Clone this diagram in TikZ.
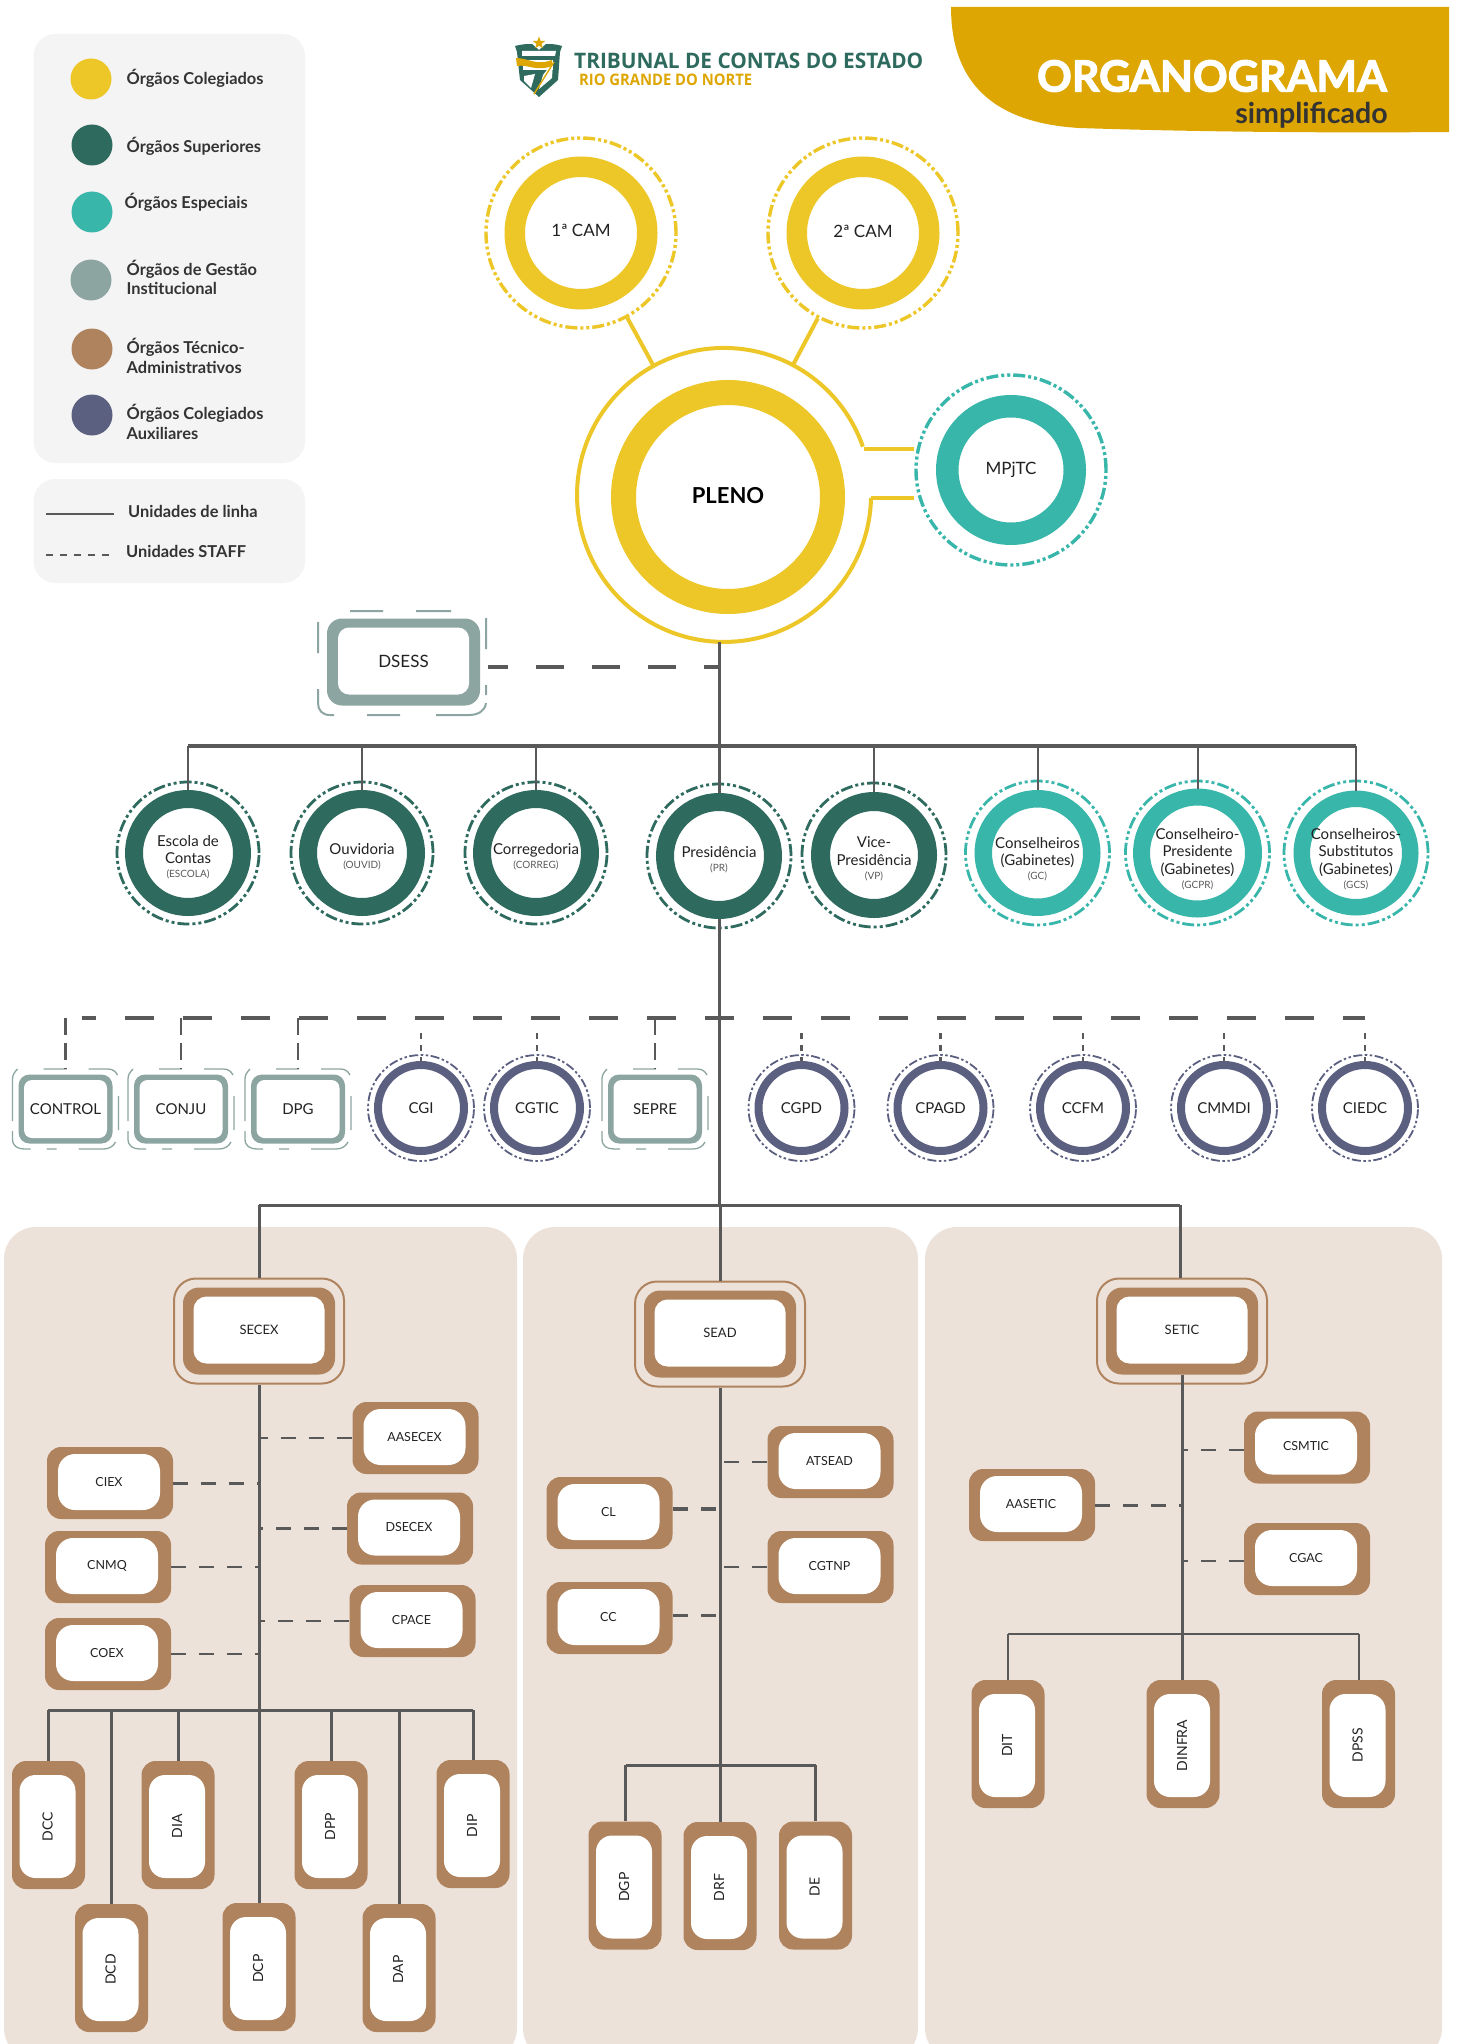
\documentclass[tikz,border=0pt]{standalone}
\usepackage{fontspec}
\setmainfont{Lato}
\newfontfamily\logofont{Open Sans}
\usetikzlibrary{shapes.geometric,calc}
\definecolor{cGold}{HTML}{EDC627}
\definecolor{cDark}{HTML}{2E6B5E}
\definecolor{cTeal}{HTML}{38B6AA}
\definecolor{cGray}{HTML}{8CA5A1}
\definecolor{cBrown}{HTML}{AF835D}
\definecolor{cPurp}{HTML}{5B5F80}
\definecolor{cLine}{HTML}{595959}
\definecolor{cPanel}{HTML}{F4F4F4}
\definecolor{cTitle}{HTML}{DEA602}
\definecolor{cBeige}{HTML}{EDE2DA}
\definecolor{cTxt}{HTML}{222222}
\newcommand{\fs}[1]{\fontsize{#1}{#1}\selectfont}
\newcommand{\subt}[1]{{\fontsize{10}{11}\selectfont\color{black!65} #1}}
\newcommand{\dlw}{2.8}
\newcommand{\tdy}{-5pt}
\tikzset{
  ringnode/.style={circle,inner sep=0pt,fill=white},
  ringtext/.style={inner sep=0pt,align=center,text=cTxt,font=\fontsize{15}{17.5}\selectfont},
  dashcirc/.style={circle,inner sep=0pt,draw=#1,line width=\dlw pt,dash pattern=on 12pt off 3pt on 3pt off 3pt on 3pt off 3pt},
  smalldash/.style={circle,inner sep=0pt,draw=#1,line width=1.8pt,dash pattern=on 9pt off 2.5pt on 2.5pt off 2.5pt on 2.5pt off 2.5pt},
  conn/.style={draw=cLine,line width=3pt},
  thin conn/.style={draw=cLine,line width=2pt},
  staff/.style={draw=cLine,line width=3.2pt,dash pattern=on 29pt off 29pt},
  vstaff/.style={draw=cLine,line width=2.4pt,dash pattern=on 17pt off 8pt},
  cstaff/.style={draw=cLine,line width=2.4pt,dash pattern=on 6pt off 6pt},
  lstaff/.style={draw=cLine,line width=2.5pt,dash pattern=on 15pt off 13pt},
  hbout/.style={rectangle,fill=cBrown,rounded corners=14pt,minimum width=126pt,minimum height=72pt,inner sep=0pt},
  hbin/.style={rectangle,fill=white,rounded corners=17pt,minimum width=102pt,minimum height=56pt,inner sep=0pt,xshift=-1pt,yshift=1pt,font=\fs{12.5},text=cTxt},
  vbout/.style={rectangle,fill=cBrown,rounded corners=14pt,minimum width=73pt,minimum height=128pt,inner sep=0pt},
  vbin/.style={rectangle,fill=white,rounded corners=16pt,minimum width=56pt,minimum height=103pt,inner sep=0pt,xshift=-1pt,yshift=-1.5pt,font=\fs{14},text=cTxt},
  tbout/.style={rectangle,fill=cBrown,rounded corners=16pt,minimum width=152pt,minimum height=87pt,inner sep=0pt},
  tbin/.style={rectangle,fill=white,rounded corners=13pt,minimum width=131pt,minimum height=67pt,inner sep=0pt,yshift=1pt,font=\fs{13},text=cTxt},
  tbrim/.style={rectangle,draw=cBrown,line width=2pt,rounded corners=22pt,minimum width=170pt,minimum height=105pt,inner sep=0pt},
  gbout/.style={rectangle,fill=cGray,rounded corners=11pt,minimum width=94pt,minimum height=69pt,inner sep=0pt},
  gbin/.style={rectangle,fill=white,rounded corners=8pt,minimum width=83pt,minimum height=58pt,inner sep=0pt,font=\fs{15},text=cTxt},
  gbframe/.style={rectangle,minimum width=106pt,minimum height=80pt,inner sep=0pt},
  gbstroke/.style={draw=cGray,line width=1.3pt},
  gloutL/.style={rectangle,fill=cGray,rounded corners=15pt,minimum width=153pt,minimum height=87pt,inner sep=0pt},
  glinL/.style={rectangle,fill=white,rounded corners=11pt,minimum width=131pt,minimum height=67pt,inner sep=0pt,yshift=1pt,font=\fs{17},text=cTxt},
  glframe/.style={rectangle,minimum width=170pt,minimum height=104pt,inner sep=0pt},
  glstroke/.style={draw=cGray,line width=2pt},
  legdot/.style={circle,minimum size=41pt,inner sep=0pt},
  legtxt/.style={anchor=west,align=left,font=\fontsize{16.4}{19.5}\selectfont\bfseries,text=black!80,inner sep=0pt},
  legbox/.style={fill=cPanel,rounded corners=22pt},
  beige/.style={fill=cBeige,rounded corners=32pt},
  yline/.style={draw=cGold,line width=4pt},
}
\newcommand{\orgcirc}[8]{% name,x,y,outer r,inner r,dash r,colour,text
  \pgfmathsetmacro\lwv{#4-#5}\pgfmathsetmacro\mdv{#4+#5}\pgfmathsetmacro\ddv{2*#6}
  \node[dashcirc=#7,minimum size=\ddv pt] (#1-o) at (#2,#3) {};
  \node[ringnode,draw=#7,line width=\lwv pt,minimum size=\mdv pt] (#1) at (#2,#3) {};
  \node[ringtext,yshift=\tdy] (#1-t) at (#1.center) {#8};}
\newcommand{\smallcirc}[3]{% name,x,text
  \node[smalldash=cPurp,minimum size=106pt] (#1-o) at (#2,1108) {};
  \node[ringnode,draw=cPurp,line width=8pt,minimum size=86pt,font=\fs{15},text=cTxt] (#1) at (#2,1108) {#3};}
\newcommand{\orgbox}[5]{% name,x,y,kind,text
  \node[#4out] (#1) at (#2,#3) {};
  \node[#4in] (#1-t) at (#1.center) {#5};}
\newcommand{\rimbox}[4]{% name,x,y,text
  \node[tbrim] (#1-r) at (#2,#3) {};
  \orgbox{#1}{#2}{#3}{tb}{#4}}
\newcommand{\graybox}[3]{% name,x,text
  \node[gbframe] (#1-o) at (#2,1109) {};
  \draw[gbstroke,shift={(#1-o.center)}]
    (-48,-40) .. controls (-51,-37) and (-53,-34) .. (-53,-30) -- (-53,12)
    (-53,22) -- (-53,30) .. controls (-53,37) and (-48,40) .. (-41,40) -- (-35,40)
    (-19,40) -- (-9,40)
    (13,40) -- (38,40) .. controls (44,40) and (48,37) .. (50,33)
    (53,-13) -- (53,21)
    (-22,-40) -- (1,-40)
    (23,-40) -- (42,-40) .. controls (47,-40) and (50,-38) .. (52,-34);
  \node[gbout] (#1) at (#2,1109) {};
  \node[gbin] (#1-t) at (#1.center) {#3};}
\begin{document}
\begin{tikzpicture}[x=1pt,y=-1pt]
\clip (0,0) rectangle (1458,2044);
\fill[white] (0,0) rectangle (1458,2044);
% title band
\fill[cTitle] (951,7) .. controls (951,70) and (980,122) .. (1079,128) .. controls (1200,132) and (1330,133) .. (1449,132) -- (1449,7) -- cycle;
\node[anchor=center,text=white,inner sep=0pt,font=\fs{43}\bfseries\addfontfeature{FakeBold=2.5}] (ttl) at (1212,76) {ORGANOGRAMA};
\node[anchor=east,text=black!80,inner sep=0pt,font=\fs{28.6}\bfseries] (sub) at (1388,115.5) {simplificado};
% logo
\fill[cDark] (515,46) .. controls (522,44) and (528,44) .. (532,44) -- (539,50) -- (546,44) .. controls (550,44) and (556,44) .. (562,46) -- (560,52) -- (558,80) -- (539,97) -- (520,80) -- (517,52) -- cycle;
\fill[white] (522,51) -- (556,51) -- (555,56) -- (522,56) -- cycle;
\fill[white] (523,60) -- (553,60) -- (553,70) -- (523,70) -- cycle;
\fill[white] (524,76) -- (535,74) -- (531,88) -- (524,81) -- cycle;
\fill[white] (543,75) -- (553,62) -- (552,78) -- (539,89) -- cycle;
\fill[cTitle] (516,58) .. controls (528,58) and (536,66) .. (552,60) -- (552,66) .. controls (536,72) and (528,64) .. (517,66) -- cycle;
\draw[cTitle,line width=1.4pt] (554,62) -- (534,94);
\node[star,star points=5,star point ratio=2.4,fill=cTitle,inner sep=0pt,minimum size=13pt] (lgstar) at (539,43) {};
\node[anchor=west,inner sep=0pt,text=cDark] (lg1) at (574,60.5) {\resizebox{349pt}{15.5pt}{\logofont\bfseries\fs{18}TRIBUNAL DE CONTAS DO ESTADO}};
\node[anchor=west,inner sep=0pt,text=cTitle] (lg2) at (579,79.5) {\resizebox{173pt}{11.5pt}{\logofont\bfseries\fs{14}RIO GRANDE DO NORTE}};
% legend
\fill[legbox] (33.5,34) rectangle (305,463);
\fill[legbox] (33.5,479) rectangle (305,583);
\node[legdot,fill=cGold] (l1) at (91,79) {};
\node[legdot,fill=cDark] (l2) at (92,145) {};
\node[legdot,fill=cTeal] (l3) at (92,212) {};
\node[legdot,fill=cGray] (l4) at (91,280) {};
\node[legdot,fill=cBrown] (l5) at (92,349) {};
\node[legdot,fill=cPurp] (l6) at (92,415) {};
\node[legtxt] (t1) at (126.5,78) {Órgãos Colegiados};
\node[legtxt] (t2) at (126.5,146) {Órgãos Superiores};
\node[legtxt] (t3) at (124.5,202) {Órgãos Especiais};
\node[legtxt] (t4) at (126.5,277.5) {Órgãos de Gestão\\Institucional};
\node[legtxt] (t5) at (126.5,356) {Órgãos Técnico-\\Administrativos};
\node[legtxt] (t6) at (126.5,422) {Órgãos Colegiados\\Auxiliares};
\coordinate (la) at (46,514); \coordinate (lb) at (114,514);
\coordinate (lc) at (46,555); \coordinate (ld) at (114,555);
\draw[draw=cLine,line width=2.4pt] (la) -- (lb);
\draw[draw=cLine,line width=2pt,dash pattern=on 7pt off 7pt] (lc) -- (ld);
\node[legtxt] (t7) at (128,511) {Unidades de linha};
\node[legtxt] (t8) at (126,551) {Unidades STAFF};
% panels
\fill[beige] (4,1227) rectangle (517,2060);
\fill[beige] (523,1227) rectangle (918,2060);
\fill[beige] (925,1227) rectangle (1442,2060);
% Pleno group
\node[circle,minimum size=294pt,inner sep=0pt] (pleno-o) at (724,495) {};
\coordinate (gapA) at (863.6,449);
\coordinate (gapB) at (871,498);
\draw[yline] (gapB) arc[start angle=1.2,end angle=340.8,radius=147];
\renewcommand{\dlw}{3.4}
\renewcommand{\tdy}{0pt}
\orgcirc{cam1}{581}{233}{76.5}{56}{95}{cGold}{\raisebox{5pt}{\fs{17}1ª CAM}}
\orgcirc{cam2}{863}{233}{76.5}{56}{95}{cGold}{\raisebox{4pt}{\fs{17}2ª CAM}}
\orgcirc{mp}{1011}{470}{75}{52.5}{95}{cTeal}{\raisebox{-1pt}{\fs{17}MPjTC}}
\renewcommand{\dlw}{2.8}
\node[ringnode,draw=cGold,line width=25pt,minimum size=209pt,font=\fs{22}\bfseries,text=black] (pleno) at (728,497) {\raisebox{3pt}{PLENO}};
\draw[yline] (cam1-o) -- (pleno-o);
\draw[yline] (cam2-o) -- (pleno-o);
\draw[yline] (gapA) -- (gapA -| mp-o.west);
\draw[yline] (gapB) -- (gapB -| mp-o.west);
% DSESS
\node[glframe] (dsess-o) at (403,663) {};
\draw[glstroke,shift={(dsess-o.center)}]
  (-53,-52) -- (-20,-52) (13,-52) -- (48,-52)
  (-85,-41) -- (-85,-10)
  (-85,26) -- (-85,40) .. controls (-85,47) and (-81,52) .. (-73,52) -- (-69,52)
  (-36,52) -- (-3,52)
  (33,52) -- (66,52) .. controls (75,52) and (82,48) .. (83,40)
  (83,-45) -- (83,-14) (83,22) -- (83,32);
\node[gloutL] (dsess) at (403.5,662) {};
\node[glinL] (dsess-t) at (dsess.center) {\raisebox{-1.5pt}{DSESS}};
% second row
\coordinate (b2L) at (188,746);
\coordinate (b2R) at (1356,746);
\renewcommand{\tdy}{-4pt}
\orgcirc{esc}{188}{853}{63}{45}{71}{cDark}{Escola de\\Contas\\[-3.5pt]\subt{(ESCOLA)}}
\orgcirc{ouv}{362}{853}{63}{45}{71}{cDark}{Ouvidoria\\[-3.5pt]\subt{(OUVID)}}
\orgcirc{cor}{536}{853}{63}{45}{71}{cDark}{Corregedoria\\[-3.5pt]\subt{(CORREG)}}
\orgcirc{pres}{719}{856}{63}{45}{72}{cDark}{Presidência\\[-3.5pt]\subt{(PR)}}
\orgcirc{vice}{874}{855}{63}{44}{72}{cDark}{Vice-\\Presidência\\[-3.5pt]\subt{(VP)}}
\renewcommand{\tdy}{-6pt}
\orgcirc{gc}{1037.5}{853}{63}{45.5}{72}{cTeal}{Conselheiros\\(Gabinetes)\\[-3.5pt]\subt{(GC)}}
\orgcirc{gcpr}{1197.5}{853}{64.5}{47.5}{72}{cTeal}{Conselheiro-\\Presidente\\(Gabinetes)\\[-3.5pt]\subt{(GCPR)}}
\orgcirc{gcs}{1356}{853}{62.5}{46}{72}{cTeal}{Conselheiros-\\Substitutos\\(Gabinetes)\\[-3.5pt]\subt{(GCS)}}
\draw[conn,line width=3.4pt] (b2L) -- (b2R);
\foreach \nm in {esc,ouv,cor,vice,gc,gcpr,gcs}{
  \draw[thin conn] (\nm.north |- b2L) -- (\nm.north);}
% trunk
\coordinate (tD) at (718.5,667);
\coordinate (b3L) at (259,1205);
\coordinate (b3R) at (1180,1205);
\draw[conn] (pres.north |- pleno-o.south) -- (pres.north);
\draw[conn] (pres.south) -- (pres.south |- b3L);
\draw[staff,dash pattern=on 28pt off 28pt,dash phase=13pt] (tD) -- (tD -| dsess-o.east);
% staff row
\coordinate (stL) at (81.5,1018);
\coordinate (stR) at (1365,1018);
\graybox{control}{65.5}{CONTROL}
\graybox{conju}{181}{CONJU}
\graybox{dpg}{298}{DPG}
\graybox{sepre}{655}{SEPRE}
\smallcirc{cgi}{421}{CGI}
\smallcirc{cgtic}{537}{CGTIC}
\smallcirc{cgpd}{801.5}{CGPD}
\smallcirc{cpagd}{940.5}{CPAGD}
\smallcirc{ccfm}{1083}{CCFM}
\smallcirc{cmmdi}{1224}{CMMDI}
\smallcirc{ciedc}{1365}{CIEDC}
\draw[staff,dash phase=15pt] (stL) -- (stR);
\foreach \nm in {control,conju,dpg,sepre}{
  \draw[vstaff] (\nm-o.north |- stL) -- (\nm-o.north);}
\foreach \nm in {cgi,cgtic,cgpd,cpagd,ccfm,cmmdi,ciedc}{
  \draw[cstaff,shorten <=15pt] (\nm.north |- stL) -- (\nm.north);}
% third bus
\rimbox{secex}{259}{1331}{SECEX}
\rimbox{sead}{720}{1334}{SEAD}
\rimbox{setic}{1182}{1331}{SETIC}
\draw[conn] (b3L) -- (b3R);
\draw[conn] (b3L) -- (secex-r.north);
\draw[conn] (sead-r.north |- b3L) -- (sead-r.north);
\draw[conn] (b3R) -- (b3R |- setic-r.north);
% SECEX
\orgbox{aasecex}{415.5}{1438}{hb}{AASECEX}
\orgbox{ciex}{110}{1483}{hb}{CIEX}
\orgbox{dsecex}{410}{1528.5}{hb}{DSECEX}
\orgbox{cnmq}{108}{1567}{hb}{CNMQ}
\orgbox{cpace}{412.5}{1621}{hb}{CPACE}
\orgbox{coex}{108}{1654}{hb}{COEX}
\orgbox{dcc}{48.5}{1825}{vb}{\rotatebox{90}{DCC}}
\orgbox{dia}{178}{1825}{vb}{\rotatebox{90}{DIA}}
\orgbox{dpp}{331}{1825}{vb}{\rotatebox{90}{DPP}}
\orgbox{dip}{473}{1824}{vb}{\rotatebox{90}{DIP}}
\orgbox{dcd}{111.5}{1968}{vb}{\rotatebox{90}{DCD}}
\orgbox{dcp}{259}{1967}{vb}{\rotatebox{90}{DCP}}
\orgbox{dap}{399}{1968}{vb}{\rotatebox{90}{DAP}}
\coordinate (bsL) at (48,1710);
\coordinate (bsR) at (473,1710);
\draw[conn] (secex-r.south) -- (dcp.north);
\draw[conn] (bsL) -- (bsR);
\foreach \nm in {dcc,dcd,dia,dpp,dap,dip}{
  \draw[conn] (\nm.north |- bsL) -- (\nm.north);}
\foreach \nm in {aasecex,dsecex,cpace}{
  \draw[lstaff] (\nm.west) -- (\nm.west -| secex-r.south);}
\draw[lstaff,line width=3pt] (ciex.east) -- (ciex.east -| secex-r.south);
\foreach \nm in {cnmq,coex}{
  \draw[lstaff] (\nm.east) -- (\nm.east -| secex-r.south);}
% SEAD
\orgbox{atsead}{830.5}{1462}{hb}{ATSEAD}
\orgbox{cl}{609.5}{1513}{hb}{CL}
\orgbox{cgtnp}{830.5}{1567}{hb}{CGTNP}
\orgbox{cc}{609.5}{1618}{hb}{CC}
\orgbox{dgp}{625}{1885.5}{vb}{\rotatebox{90}{DGP}}
\orgbox{drf}{720}{1886}{vb}{\rotatebox{90}{DRF}}
\orgbox{de}{815.5}{1885.5}{vb}{\rotatebox{90}{DE}}
\coordinate (beL) at (626,1765);
\coordinate (beR) at (816,1765);
\draw[conn] (sead-r.south) -- (drf.north);
\draw[conn] (beL) -- (beR);
\draw[conn] (dgp.north |- beL) -- (dgp.north);
\draw[conn] (de.north |- beL) -- (de.north);
\draw[lstaff,shorten >=2pt] (atsead.west) -- (atsead.west -| sead-r.south);
\draw[lstaff] (cgtnp.west) -- (cgtnp.west -| sead-r.south);
\draw[lstaff,line width=3.4pt] ([yshift=4pt]cl.east) -- ([yshift=4pt]cl.east -| sead-r.south);
\draw[lstaff,line width=3pt] ([yshift=3pt]cc.east) -- ([yshift=3pt]cc.east -| sead-r.south);
% SETIC
\orgbox{csmtic}{1307}{1447.5}{hb}{CSMTIC}
\orgbox{aasetic}{1032}{1505}{hb}{AASETIC}
\orgbox{cgac}{1307}{1559}{hb}{CGAC}
\orgbox{dit}{1008}{1744}{vb}{\rotatebox{90}{DIT}}
\orgbox{dinfra}{1183}{1744}{vb}{\rotatebox{90}{DINFRA}}
\orgbox{dpss}{1358.5}{1744}{vb}{\rotatebox{90}{DPSS}}
\coordinate (btL) at (1008,1634);
\coordinate (btR) at (1358.5,1634);
\draw[conn] (setic.south) -- (setic.south |- dinfra.north);
\draw[thin conn] (btL) -- (btR);
\draw[thin conn] (dit.north |- btL) -- (dit.north);
\draw[thin conn] (dpss.north |- btL) -- (dpss.north);
\draw[lstaff] ([yshift=-2.5pt]csmtic.west) -- ([yshift=-2.5pt]csmtic.west -| setic.south);
\draw[lstaff,line width=3pt] (aasetic.east) -- (aasetic.east -| setic.south);
\draw[lstaff,line width=2pt] ([yshift=-2pt]cgac.west) -- ([yshift=-2pt]cgac.west -| setic.south);
\end{tikzpicture}
\end{document}
